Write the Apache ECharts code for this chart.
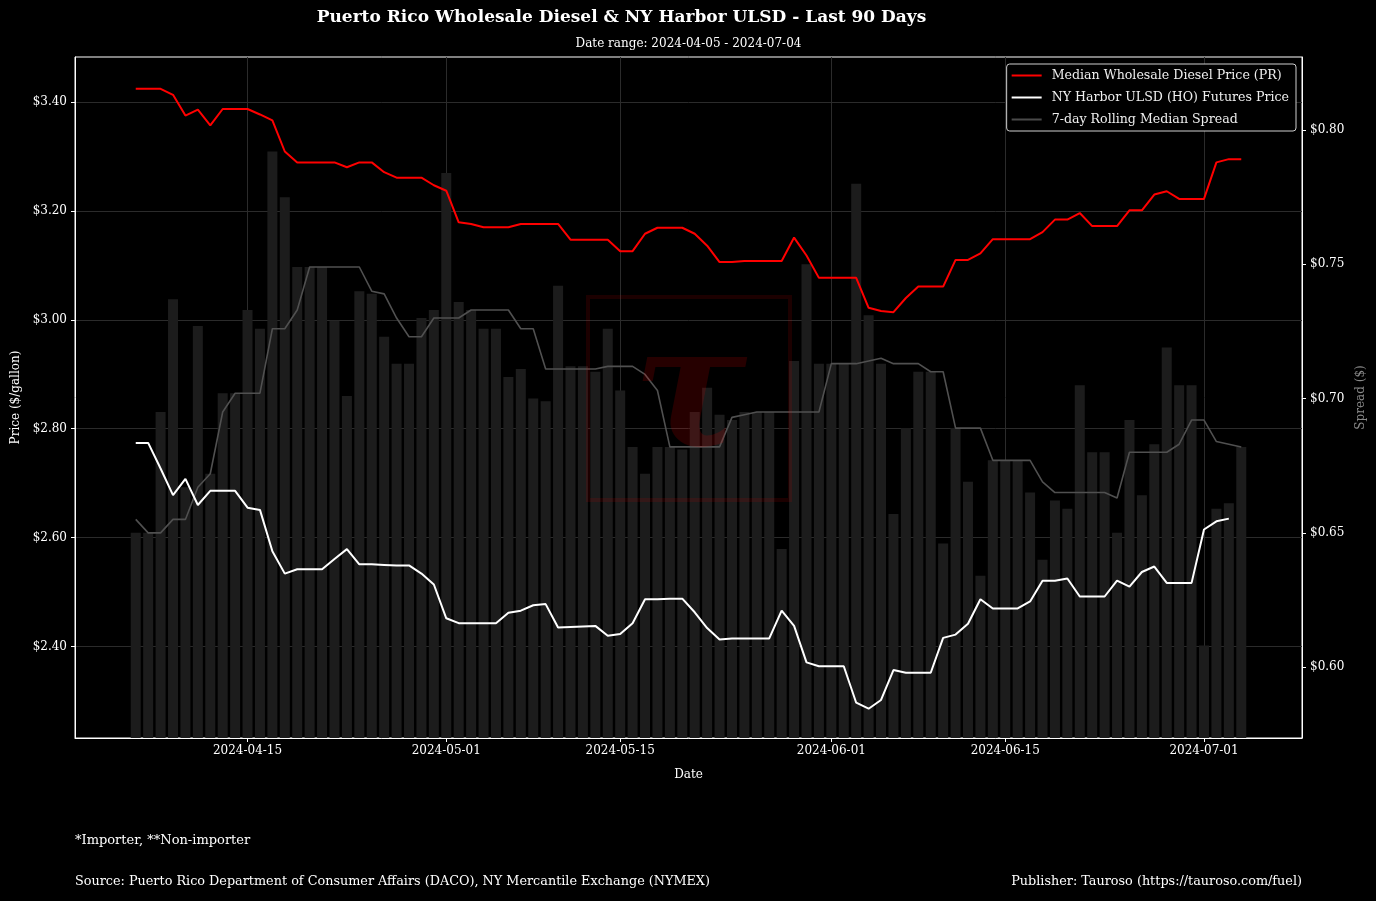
<!DOCTYPE html>
<html>
<head>
<meta charset="utf-8">
<script src="https://cdn.jsdelivr.net/npm/echarts@6/dist/echarts.min.js"></script>
<style>
html,body{margin:0;padding:0;background:#000;}
#chart{width:1376px;height:901px;}
</style>
</head>
<body>
<div id="chart"></div>
<script>
// ---- Data ----
const firstDate = [2024, 4, 6]; // 2024-04-06, one point per day
const prPrice = [3.424,3.424,3.424,3.413,3.375,3.386,3.357,3.387,3.387,3.387,3.377,3.366,3.309,3.289,3.289,3.289,3.289,3.280,3.289,3.289,3.271,3.261,3.261,3.261,
  3.247,3.237,3.179,3.176,3.170,3.170,3.170,3.176,3.176,3.176,3.176,3.147,3.147,3.147,3.147,3.126,3.126,3.158,3.169,3.169,3.169,3.158,3.136,3.106,3.106,3.108,3.108,3.108,3.108,3.151,3.118,3.077,
  3.077,3.077,3.077,3.022,3.016,3.014,3.040,3.061,3.061,3.061,3.110,3.110,3.122,3.148,3.148,3.148,3.148,3.161,3.184,3.184,3.196,3.172,3.172,3.172,3.201,3.201,3.230,3.236,3.222,3.222,3.222,3.289,3.295,3.295];
const hoPrice = [2.774,2.774,2.727,2.678,2.708,2.660,2.686,2.686,2.686,2.655,2.651,2.575,2.534,2.542,2.542,2.542,2.561,2.579,2.551,2.551,2.550,2.549,2.549,2.534,
  2.514,2.452,2.443,2.443,2.443,2.443,2.462,2.466,2.476,2.478,2.435,2.436,2.437,2.438,2.420,2.423,2.443,2.487,2.487,2.488,2.488,2.463,2.434,2.413,2.415,2.415,2.415,2.415,2.466,2.438,2.371,2.364,
  2.364,2.364,2.297,2.286,2.302,2.357,2.352,2.352,2.352,2.416,2.422,2.442,2.487,2.470,2.470,2.470,2.483,2.521,2.521,2.525,2.492,2.492,2.492,2.521,2.510,2.537,2.547,2.517,2.517,2.517,2.615,2.630,2.635];
const dailySpread = [0.650,0.650,0.695,0.737,0.667,0.727,0.672,0.702,0.702,0.733,0.726,0.792,0.775,0.749,0.749,0.749,0.729,0.701,0.740,0.739,0.723,0.713,0.713,0.730,
  0.733,0.784,0.736,0.733,0.726,0.726,0.708,0.711,0.700,0.699,0.742,0.712,0.712,0.710,0.726,0.703,0.682,0.672,0.682,0.682,0.681,0.695,0.704,0.694,0.692,0.695,0.695,0.695,0.644,0.714,0.750,0.713,
  0.713,0.713,0.780,0.731,0.713,0.657,0.689,0.710,0.710,0.646,0.689,0.669,0.634,0.677,0.677,0.677,0.665,0.640,0.662,0.659,0.705,0.680,0.680,0.650,0.692,0.664,0.683,0.719,0.705,0.705,0.608,0.659,0.661,0.682];
const rollingSpread = [0.655,0.650,0.650,0.655,0.655,0.667,0.672,0.695,0.702,0.702,0.702,0.726,0.726,0.733,0.749,0.749,0.749,0.749,0.749,0.740,0.739,0.730,0.723,0.723,
  0.730,0.730,0.730,0.733,0.733,0.733,0.733,0.726,0.726,0.711,0.711,0.711,0.711,0.711,0.712,0.712,0.712,0.709,0.703,0.682,0.682,0.682,0.682,0.682,0.693,0.694,0.695,0.695,0.695,0.695,0.695,0.695,
  0.713,0.713,0.713,0.714,0.715,0.713,0.713,0.713,0.710,0.710,0.689,0.689,0.689,0.677,0.677,0.677,0.677,0.669,0.665,0.665,0.665,0.665,0.665,0.663,0.680,0.680,0.680,0.680,0.683,0.692,0.692,0.684,0.683,0.682];
const xTickLabels = ['2024-04-15','2024-05-01','2024-05-15','2024-06-01','2024-06-15','2024-07-01'];
const priceTicks = [2.4, 2.6, 2.8, 3.0, 3.2, 3.4];
const spreadTicks = [0.60, 0.65, 0.70, 0.75, 0.80];
const seriesNames = ['Median Wholesale Diesel Price (PR)', 'NY Harbor ULSD (HO) Futures Price', '7-day Rolling Median Spread'];

// ---- Helpers ----
function dayString(i) {
  const d = new Date(Date.UTC(firstDate[0], firstDate[1] - 1, firstDate[2] + i));
  return d.toISOString().slice(0, 10);
}
function dayIndex(s) {
  const p = s.split('-').map(Number);
  return Math.round((Date.UTC(p[0], p[1] - 1, p[2]) - Date.UTC(firstDate[0], firstDate[1] - 1, firstDate[2])) / 86400000);
}
const xTickIdx = xTickLabels.map(dayIndex);
const pairs = arr => arr.map((v, i) => [i, v]);

const FONT = 'DejaVu Serif';
const LINE_ICON = 'path://M0,0 L30,0 L30,2 L0,2 Z';
const chart = echarts.init(document.getElementById('chart'), null, {renderer: 'canvas'});

const option = {
  backgroundColor: '#000',
  animation: false,
  textStyle: {fontFamily: FONT},
  grid: {left: 75, right: 74, top: 57, bottom: 163, show: true, borderColor: '#fff', borderWidth: 1, backgroundColor: 'transparent'},
  legend: {
    data: seriesNames.map(n => ({name: n, icon: LINE_ICON})),
    orient: 'vertical',
    right: 80, top: 64,
    itemWidth: 30, itemHeight: 2, itemGap: 9,
    padding: [5, 7, 5, 5],
    backgroundColor: '#000',
    borderColor: '#cfcfcf', borderWidth: 1, borderRadius: 3,
    textStyle: {color: '#eee', fontSize: 12.6, fontFamily: FONT, padding: [0, 0, 0, 5]}
  },
  xAxis: {
    type: 'value',
    min: -4.89, max: 93.89,
    axisLine: {show: true, onZero: false, lineStyle: {color: '#fff', width: 1}},
    axisTick: {show: true, length: 4, lineStyle: {color: '#fff'}, customValues: xTickIdx},
    axisLabel: {color: '#fff', fontSize: 12, fontFamily: FONT, margin: 7, customValues: xTickIdx,
      formatter: v => dayString(Math.round(v))},
    splitLine: {show: true, lineStyle: {color: '#2b2b2b', width: 1}},
    name: 'Date', nameLocation: 'middle', nameGap: 31,
    nameTextStyle: {color: '#fff', fontSize: 12, fontFamily: FONT}
  },
  yAxis: [{
    type: 'value',
    min: 2.2322, max: 3.4825,
    axisLine: {show: true, onZero: false, lineStyle: {color: '#fff'}},
    axisTick: {show: true, length: 4, lineStyle: {color: '#fff'}, customValues: priceTicks},
    axisLabel: {color: '#fff', fontSize: 12, fontFamily: FONT, margin: 8, customValues: priceTicks,
      formatter: v => '$' + v.toFixed(2)},
    splitLine: {show: true, lineStyle: {color: '#2b2b2b', width: 1}},
    name: 'Price ($/gallon)', nameLocation: 'middle', nameGap: 53, nameRotate: 90,
    nameTextStyle: {color: '#fff', fontSize: 12, fontFamily: FONT}
  }, {
    type: 'value',
    position: 'right',
    min: 0.5736, max: 0.8272,
    axisLine: {show: true, onZero: false, lineStyle: {color: '#fff'}},
    axisTick: {show: true, length: 4, lineStyle: {color: '#fff'}, customValues: spreadTicks},
    axisLabel: {color: '#fff', fontSize: 12, fontFamily: FONT, margin: 8, customValues: spreadTicks,
      formatter: v => '$' + v.toFixed(2)},
    splitLine: {show: false},
    name: 'Spread ($)', nameLocation: 'middle', nameGap: 48, nameRotate: 90,
    nameTextStyle: {color: '#888', fontSize: 12, fontFamily: FONT}
  }],
  series: [{
    name: 'Daily Spread',
    type: 'bar',
    yAxisIndex: 1,
    data: pairs(dailySpread),
    barWidth: 10,
    itemStyle: {color: '#1c1c1c'},
    z: 1
  }, {
    name: seriesNames[0],
    type: 'line',
    data: pairs(prPrice),
    symbol: 'none',
    lineStyle: {color: '#ff0000', width: 2},
    itemStyle: {color: '#ff0000'},
    z: 4
  }, {
    name: seriesNames[1],
    type: 'line',
    data: pairs(hoPrice),
    symbol: 'none',
    lineStyle: {color: '#ffffff', width: 2},
    itemStyle: {color: '#ffffff'},
    z: 4
  }, {
    name: seriesNames[2],
    type: 'line',
    yAxisIndex: 1,
    data: pairs(rollingSpread),
    symbol: 'none',
    lineStyle: {color: '#505050', width: 1.6},
    itemStyle: {color: '#4a4a4a'},
    z: 3
  }],
  graphic: [
    {type: 'text', x: 621.5, y: 18, z: 10, silent: true,
      style: {text: 'Puerto Rico Wholesale Diesel & NY Harbor ULSD - Last 90 Days', fill: '#fff', font: 'bold 17px "DejaVu Serif"', textAlign: 'center', textVerticalAlign: 'middle'}},
    {type: 'text', x: 688.5, y: 44, z: 10, silent: true,
      style: {text: 'Date range: 2024-04-05 - 2024-07-04', fill: '#fff', font: '12px "DejaVu Serif"', textAlign: 'center', textVerticalAlign: 'middle'}},
    {type: 'text', x: 75, y: 841, z: 10, silent: true,
      style: {text: '*Importer, **Non-importer', fill: '#fff', font: '13px "DejaVu Serif"', textAlign: 'left', textVerticalAlign: 'middle'}},
    {type: 'text', x: 75, y: 882, z: 10, silent: true,
      style: {text: 'Source: Puerto Rico Department of Consumer Affairs (DACO), NY Mercantile Exchange (NYMEX)', fill: '#fff', font: '12.8px "DejaVu Serif"', textAlign: 'left', textVerticalAlign: 'middle'}},
    {type: 'text', x: 1302, y: 882, z: 10, silent: true,
      style: {text: 'Publisher: Tauroso (https://tauroso.com/fuel)', fill: '#fff', font: '12.8px "DejaVu Serif"', textAlign: 'right', textVerticalAlign: 'middle'}},
    {type: 'rect', z: 20, silent: true,
      shape: {x: 588, y: 297, width: 202, height: 203},
      style: {fill: 'none', stroke: 'rgba(255,0,0,0.11)', lineWidth: 4}},
    {type: 'text', x: 690, y: 402, z: 20, silent: true,
      style: {text: 'τ', fill: 'rgba(255,0,0,0.15)', font: 'italic bold 170px "DejaVu Serif"', textAlign: 'center', textVerticalAlign: 'middle'}}
  ]
};
chart.setOption(option);
</script>
</body>
</html>
